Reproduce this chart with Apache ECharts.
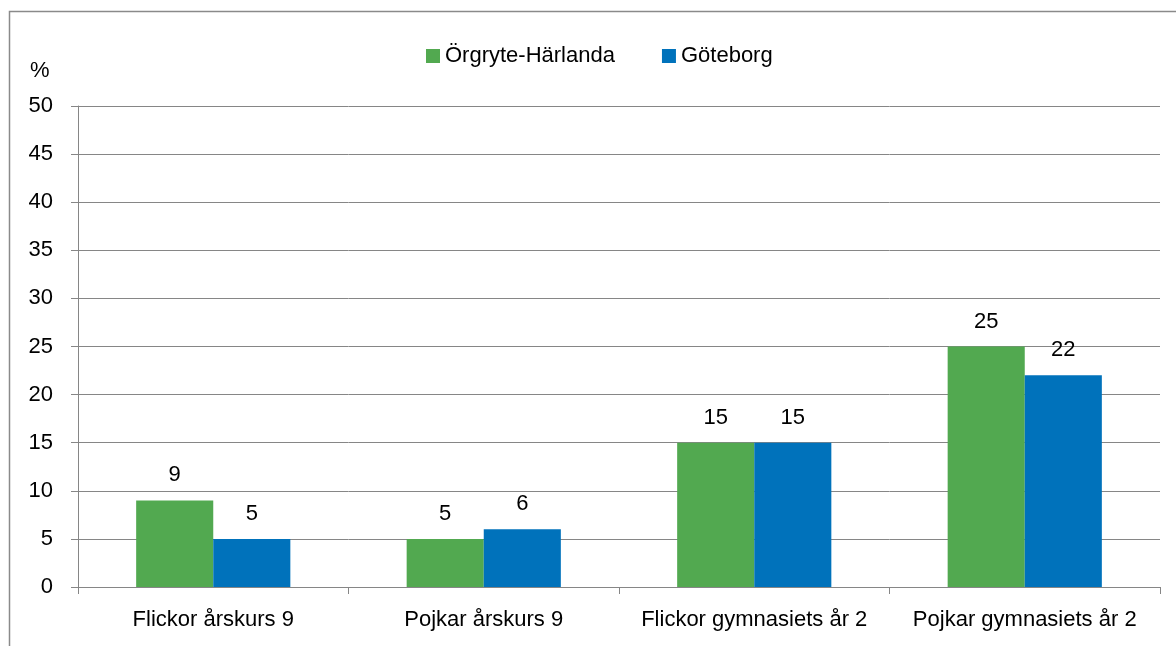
<!DOCTYPE html>
<html>
<head>
<meta charset="utf-8">
<script src="https://cdn.jsdelivr.net/npm/echarts@6/dist/echarts.min.js"></script>
<style>
  html, body { margin: 0; padding: 0; background: #fff; }
  #chart { width: 1176px; height: 646px; }
</style>
</head>
<body>
<div id="chart"></div>
<script>
const categories = ['Flickor årskurs 9', 'Pojkar årskurs 9', 'Flickor gymnasiets år 2', 'Pojkar gymnasiets år 2'];
const seriesNames = ['Örgryte-Härlanda', 'Göteborg'];
const orgryteValues = [9, 5, 15, 25];
const goteborgValues = [5, 6, 15, 22];

const font = 'Liberation Sans';
const fontSize = 22;
const gridColor = '#868686';

const chart = echarts.init(document.getElementById('chart'));

const labelStyle = {
  show: true,
  position: 'top',
  distance: 14,
  color: '#000',
  fontFamily: font,
  fontSize: fontSize
};

chart.setOption({
  animation: false,
  textStyle: { fontFamily: font },
  title: {
    text: '%',
    left: 25,
    top: 55,
    textStyle: { fontFamily: font, fontSize: fontSize, fontWeight: 'normal', color: '#000' }
  },
  legend: {
    data: seriesNames,
    top: 40,
    left: 421,
    itemWidth: 14,
    itemHeight: 14,
    itemGap: 47,
    icon: 'rect',
    textStyle: { fontFamily: font, fontSize: fontSize, color: '#000' }
  },
  graphic: [{
    type: 'rect',
    shape: { x: 9.5, y: 11.5, width: 1300, height: 800 },
    style: { fill: 'none', stroke: '#8a8a8a', lineWidth: 1.5 },
    silent: true
  }],
  grid: { left: 78, right: 16, top: 106, bottom: 59 },
  xAxis: {
    type: 'category',
    data: categories,
    axisLine: { lineStyle: { color: gridColor, width: 1 } },
    axisTick: { show: true, length: 7, lineStyle: { color: gridColor } },
    axisLabel: { color: '#000', fontFamily: font, fontSize: fontSize, margin: 22, interval: 0, hideOverlap: false }
  },
  yAxis: {
    type: 'value',
    min: 0,
    max: 50,
    interval: 5,
    axisLine: { show: true, lineStyle: { color: gridColor, width: 1 } },
    axisTick: { show: true, length: 7, lineStyle: { color: gridColor } },
    splitLine: { lineStyle: { color: gridColor, width: 1 } },
    axisLabel: { color: '#000', fontFamily: font, fontSize: fontSize, margin: 25 }
  },
  series: [
    {
      name: seriesNames[0],
      type: 'bar',
      data: orgryteValues,
      barGap: '0%',
      barCategoryGap: '43%',
      itemStyle: { color: '#52a950' },
      label: labelStyle
    },
    {
      name: seriesNames[1],
      type: 'bar',
      data: goteborgValues,
      itemStyle: { color: '#0072bb' },
      label: labelStyle
    }
  ]
});
</script>
</body>
</html>
